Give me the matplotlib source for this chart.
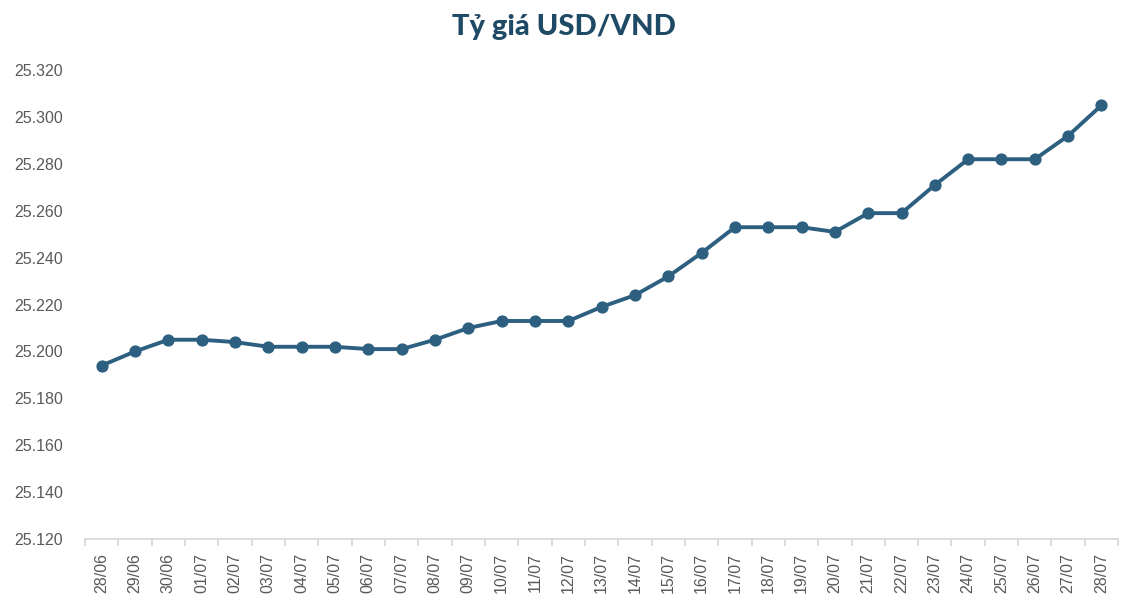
import matplotlib
matplotlib.use("Agg")
import matplotlib.pyplot as plt
from matplotlib.ticker import FixedLocator, FuncFormatter

# Dữ liệu tỷ giá USD/VND
dates = [
    "28/06", "29/06", "30/06", "01/07", "02/07", "03/07", "04/07", "05/07",
    "06/07", "07/07", "08/07", "09/07", "10/07", "11/07", "12/07", "13/07",
    "14/07", "15/07", "16/07", "17/07", "18/07", "19/07", "20/07", "21/07",
    "22/07", "23/07", "24/07", "25/07", "26/07", "27/07", "28/07",
]
rates = [
    25194, 25200, 25205, 25205, 25204, 25202, 25202, 25202,
    25201, 25201, 25205, 25210, 25213, 25213, 25213, 25219,
    25224, 25232, 25242, 25253, 25253, 25253, 25251, 25259,
    25259, 25271, 25282, 25282, 25282, 25292, 25305,
]
y_ticks = [25120, 25140, 25160, 25180, 25200, 25220, 25240, 25260, 25280, 25300, 25320]

LINE_COLOR = "#2D5F80"
TITLE_COLOR = "#1F4A66"
TEXT_COLOR = "#595959"
AXIS_COLOR = "#D9D9D9"

fig = plt.figure(figsize=(11.34, 6.10), dpi=100)
ax = fig.add_axes([0.075, 0.1164, 0.911, 0.7686])

x = list(range(len(dates)))
ax.plot(x, rates, color=LINE_COLOR, lw=2.8, marker="o", ms=7.8,
        markerfacecolor=LINE_COLOR, markeredgecolor=LINE_COLOR, zorder=3)

ax.set_xlim(-0.5, len(dates) - 0.5)
ax.set_ylim(y_ticks[0], y_ticks[-1])

# Trục Y: chỉ nhãn, không có đường trục
ax.set_yticks(y_ticks)
ax.yaxis.set_major_formatter(FuncFormatter(lambda v, _: f"{v:,.0f}".replace(",", ".")))
ax.tick_params(axis="y", length=0, pad=16, labelsize=11.5, labelcolor=TEXT_COLOR)

# Trục X: nhãn xoay dọc, vạch chia giữa các ngày
ax.set_xticks(x)
ax.set_xticklabels(dates, rotation=90)
ax.tick_params(axis="x", which="major", length=0, pad=10, labelsize=11.5, labelcolor=TEXT_COLOR)
ax.xaxis.set_minor_locator(FixedLocator([i - 0.5 for i in range(len(dates) + 1)]))
ax.tick_params(axis="x", which="minor", length=5, width=1.3, color=AXIS_COLOR, direction="out")

for side in ("top", "right", "left"):
    ax.spines[side].set_visible(False)
ax.spines["bottom"].set_color(AXIS_COLOR)
ax.spines["bottom"].set_linewidth(1.3)

for lbl in ax.get_xticklabels() + ax.get_yticklabels():
    lbl.set_family(["Liberation Sans", "DejaVu Sans"])

fig.text(0.497, 0.955, "Tỷ giá USD/VND", ha="center", va="center",
         fontsize=21, fontweight="black", color=TITLE_COLOR,
         family=["Lato", "DejaVu Sans"])

fig.savefig("out.png", dpi=100)
